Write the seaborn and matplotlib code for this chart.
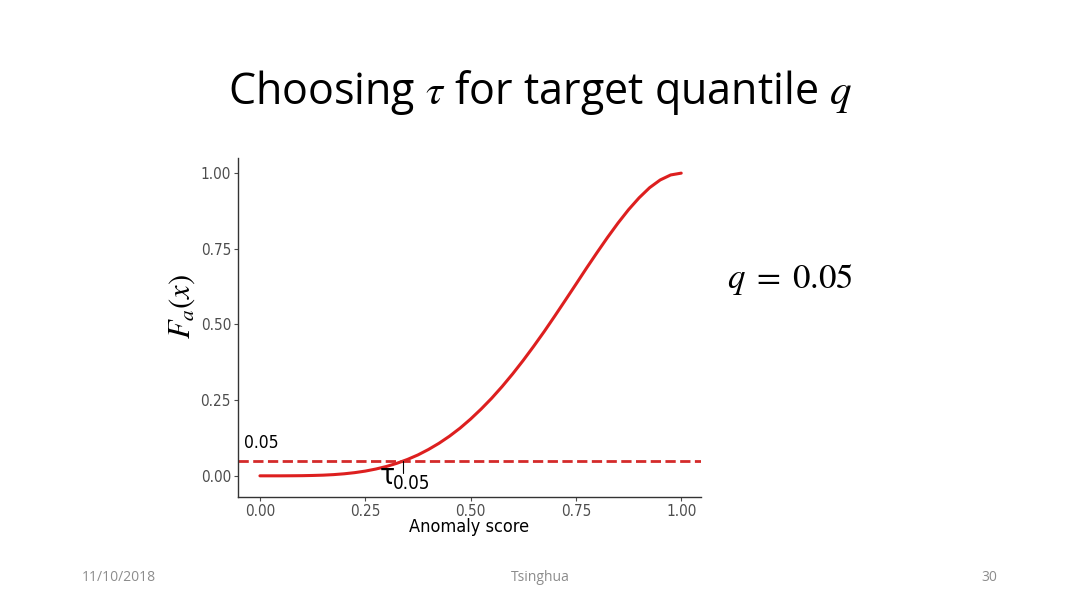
import matplotlib
matplotlib.use("Agg")
import matplotlib.pyplot as plt
import seaborn as sns
import pandas as pd

# valores
score = [0.000, 0.025, 0.050, 0.075, 0.100, 0.125, 0.150, 0.175, 0.200, 0.225,
         0.250, 0.275, 0.300, 0.325, 0.350, 0.375, 0.400, 0.425, 0.450, 0.475,
         0.500, 0.525, 0.550, 0.575, 0.600, 0.625, 0.650, 0.675, 0.700, 0.725,
         0.750, 0.775, 0.800, 0.825, 0.850, 0.875, 0.900, 0.925, 0.950, 0.975, 1.000]
cdf = [0.0000, 0.0000, 0.0000, 0.0002, 0.0005, 0.0012, 0.0022, 0.0040, 0.0067, 0.0105,
       0.0156, 0.0224, 0.0308, 0.0414, 0.0540, 0.0690, 0.0870, 0.1075, 0.1310, 0.1575,
       0.1875, 0.2205, 0.2562, 0.2952, 0.3370, 0.3815, 0.4284, 0.4772, 0.5282, 0.5803,
       0.6328, 0.6858, 0.7373, 0.7875, 0.8352, 0.8794, 0.9185, 0.9520, 0.9774, 0.9940, 1.0000]
q = 0.05
tau = 0.34
xticks = [0.00, 0.25, 0.50, 0.75, 1.00]
yticks = [0.00, 0.25, 0.50, 0.75, 1.00]

df = pd.DataFrame({"score": score, "cdf": cdf})

sns.set_theme(style="white")
plt.rcParams["font.family"] = ["DejaVu Sans"]
plt.rcParams["font.stretch"] = "condensed"
plt.rcParams["mathtext.fontset"] = "stix"

fig = plt.figure(figsize=(10.8, 6.07), dpi=100)
ax = fig.add_axes([0.2204, 0.1812, 0.4287, 0.5585])

sns.lineplot(data=df, x="score", y="cdf", color="#dd1f1f", linewidth=2.2, ax=ax)
ax.axhline(q, color="#d42a2a", linestyle="--", linewidth=2.0)
ax.plot([tau, tau], [q, 0.008], color="black", linewidth=0.8)

# etiquetas dentro del gráfico
ax.text(-0.038, q + 0.06, f"{q:.2f}", fontsize=12.5, color="black", va="center", ha="left")
ax.text(0.303, 0.0, "τ", fontsize=20, ha="center", va="center", color="black")
ax.text(0.316, -0.027, f"{q:.2f}", fontsize=13.5, ha="left", va="center", color="black")

ax.set_xlim(-0.052, 1.047)
ax.set_ylim(-0.07, 1.05)
ax.set_xticks(xticks)
ax.set_yticks(yticks)
ax.set_xticklabels([f"{t:.2f}" for t in xticks])
ax.set_yticklabels([f"{t:.2f}" for t in yticks])
ax.tick_params(axis="both", colors="#4d4d4d", labelsize=11, length=3, width=0.8,
               direction="out", left=True, bottom=True, pad=2)
for s in ["top", "right"]:
    ax.spines[s].set_visible(False)
for s in ["left", "bottom"]:
    ax.spines[s].set_color("#333333")
    ax.spines[s].set_linewidth(1.0)

ax.set_xlabel("Anomaly score", fontsize=13, color="black")
ax.xaxis.set_label_coords(0.5, -0.063)
ax.set_ylabel(r"$F_a(x)$", fontsize=22, color="black")
ax.yaxis.set_label_coords(-0.088, 0.563)

# título y textos de la diapositiva
fig.text(0.5, 0.847, r"Choosing $\tau$ for target quantile $q$", ha="center", va="center",
         fontsize=31, family=["Open Sans", "DejaVu Sans"], stretch="normal", color="black")
fig.text(0.7315, 0.539, r"$q\;=\;0.05$", ha="center", va="center", fontsize=25, color="black")

foot = dict(fontsize=10, color="#8c8c8c", va="center", family=["Open Sans", "DejaVu Sans"],
            stretch="normal")
fig.text(0.076, 0.048, "11/10/2018", ha="left", **foot)
fig.text(0.5, 0.048, "Tsinghua", ha="center", **foot)
fig.text(0.923, 0.048, "30", ha="right", **foot)

plt.savefig("out.png", dpi=100)
